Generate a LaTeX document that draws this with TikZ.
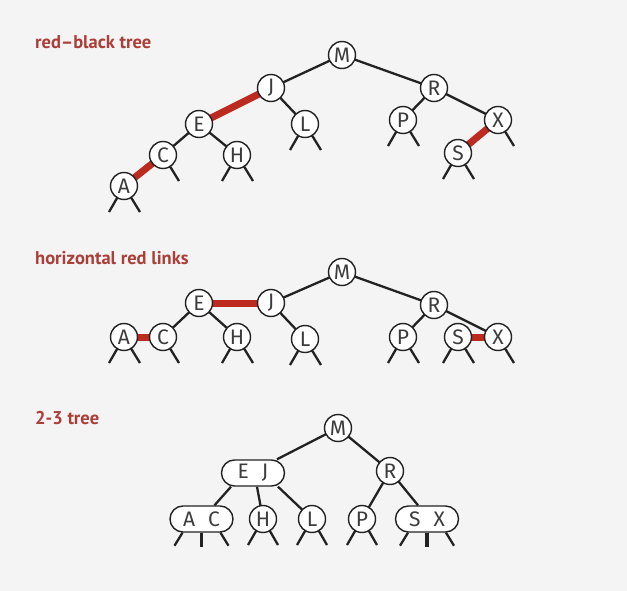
\documentclass[tikz,border=0pt]{standalone}
\usepackage{fontspec}
\setmainfont{Fira Sans}
\newfontfamily\titlefont{PT Sans}
\usetikzlibrary{calc}
\pgfdeclarelayer{back}
\pgfdeclarelayer{bg}
\pgfsetlayers{back,bg,main}
\definecolor{bgc}{RGB}{244,244,244}
\definecolor{lblred}{RGB}{172,62,56}
\definecolor{linkred}{RGB}{188,42,32}
\definecolor{ink}{RGB}{34,34,34}
\definecolor{txt}{RGB}{60,60,60}
\begin{document}
\begin{tikzpicture}[x=1pt,y=-1pt,
  key/.style={circle,draw=ink,line width=1.4pt,fill=white,minimum size=27pt,inner sep=0pt,
    text=txt,font=\fontsize{21}{21}\selectfont},
  pair/.style={rectangle,rounded corners=13pt,draw=ink,line width=1.4pt,fill=white,
    minimum width=63pt,minimum height=26pt,inner sep=0pt,text=txt,font=\fontsize{21}{21}\selectfont},
  edge/.style={draw=ink,line width=2.3pt},
  redlink/.style={draw=linkred,line width=7pt},
  stub/.style={draw=ink,line width=2.3pt},
  midstub/.style={draw=ink,line width=3.2pt},
  title/.style={anchor=base west,text=lblred,font=\titlefont\fontsize{18.5}{18.5}\selectfont\bfseries,inner sep=0pt}]
\begin{pgfonlayer}{back}
\fill[bgc] (0,0) rectangle (627,591);
\end{pgfonlayer}
\useasboundingbox (0,0) rectangle (627,591);

% titles
\node[title] (t1) at (35,49) {red–black tree};
\node[title] (t2) at (35,265) {horizontal red links};
\node[title] (t3) at (35,424) {2-3 tree};

% tree 1
\node[key] (M1) at (342,55) {M};
\node[key] (J1) at (271,88) {J};
\node[key] (R1) at (434,88) {R};
\node[key] (E1) at (199,124) {E};
\node[key] (L1) at (305,124) {L};
\node[key] (P1) at (403,120) {P};
\node[key] (X1) at (498,120) {X};
\node[key] (C1) at (163,155) {C};
\node[key] (H1) at (237,155) {H};
\node[key] (S1) at (458,153) {S};
\node[key] (A1) at (124,186) {A};

% tree 2
\node[key] (M2) at (342,272) {M};
\node[key] (J2) at (271,303) {J};
\node[key] (E2) at (199,303) {E};
\node[key] (R2) at (434,305) {R};
\node[key] (A2) at (124,337) {A};
\node[key] (C2) at (163,337) {C};
\node[key] (H2) at (237,337) {H};
\node[key] (L2) at (305,339) {L};
\node[key] (P2) at (403,337) {P};
\node[key] (S2) at (458,337) {S};
\node[key] (X2) at (498,337) {X};

% tree 3
\node[key] (M3) at (338,428) {M};
\node[pair] (EJ) at (253,473) {E\hspace{13pt}J};
\node[key] (R3) at (390,471) {R};
\node[pair] (AC) at (201.5,519) {A\hspace{13pt}C};
\node[key] (H3) at (263,519) {H};
\node[key] (L3) at (312,519) {L};
\node[key] (P3) at (362,519) {P};
\node[pair] (SX) at (427,519) {S\hspace{13pt}X};

\begin{pgfonlayer}{bg}
% tree 1 edges
\draw[edge] (M1.center) -- (J1.center);
\draw[edge] (M1.center) -- (R1.center);
\draw[redlink] (J1.center) -- (E1.center);
\draw[edge] (J1.center) -- (L1.center);
\draw[edge] (E1.center) -- (C1.center);
\draw[edge] (E1.center) -- (H1.center);
\draw[redlink] (C1.center) -- (A1.center);
\draw[edge] (R1.center) -- (P1.center);
\draw[edge] (R1.center) -- (X1.center);
\draw[redlink] (X1.center) -- (S1.center);
\foreach \n in {A1,H1,L1,P1,S1}{
  \draw[stub] (\n.center) -- ++(-15,26);
  \draw[stub] (\n.center) -- ++(16,26);
}
\foreach \n in {C1,X1}{
  \draw[stub] (\n.center) -- ++(16,26);
}
% tree 2 edges
\draw[edge] (M2.center) -- (J2.center);
\draw[edge] (M2.center) -- (R2.center);
\draw[redlink] (J2.center) -- (E2.center);
\draw[edge] (J2.center) -- (L2.center);
\draw[edge] (E2.center) -- (C2.center);
\draw[edge] (E2.center) -- (H2.center);
\draw[redlink] (C2.center) -- (A2.center);
\draw[edge] (R2.center) -- (P2.center);
\draw[edge] (R2.center) -- (X2.center);
\draw[redlink] (X2.center) -- (S2.center);
\foreach \n in {A2,H2,L2,P2,S2}{
  \draw[stub] (\n.center) -- ++(-15,26);
  \draw[stub] (\n.center) -- ++(16,26);
}
\foreach \n in {C2,X2}{
  \draw[stub] (\n.center) -- ++(16,26);
}
% tree 3 edges
\draw[edge] (M3.center) -- ($(EJ.north)+(24,0)$);
\draw[edge] (M3.center) -- (R3.center);
\draw[edge] ($(EJ.south)+(-22,0)$) -- ($(AC.north)+(13,0)$);
\draw[edge] ($(EJ.south)+(4,0)$) -- (H3.center);
\draw[edge] ($(EJ.south)+(25,0)$) -- (L3.center);
\draw[edge] (R3.center) -- (P3.center);
\draw[edge] (R3.center) -- ($(SX.north)+(-9,0)$);
\foreach \n in {H3,L3,P3}{
  \draw[stub] (\n.center) -- ++(-15,26);
  \draw[stub] (\n.center) -- ++(15,26);
}
\foreach \n in {AC,SX}{
  \draw[stub] ($(\n.south)+(-19,0)$) -- ++(-8,13);
  \draw[midstub] (\n.south) -- ++(0,14);
  \draw[stub] ($(\n.south)+(19,0)$) -- ++(8,13);
}
\end{pgfonlayer}
\end{tikzpicture}
\end{document}
